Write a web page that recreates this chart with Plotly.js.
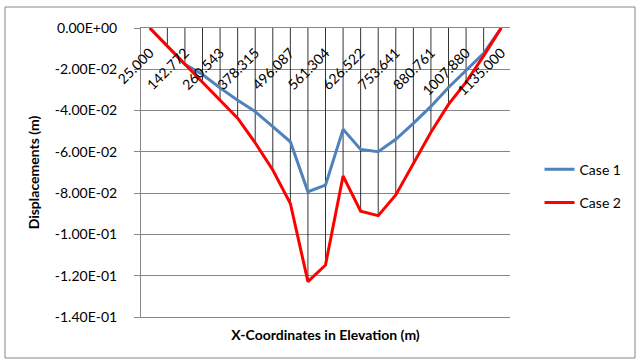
<!DOCTYPE html>
<html>
<head>
<meta charset="utf-8">
<script src="https://cdn.plot.ly/plotly-3.0.1.min.js"></script>
<style>
html,body{margin:0;padding:0;background:#fff;}
#chart{width:640px;height:364px;}
</style>
</head>
<body>
<div id="chart"></div>
<script>
// X-coordinates (categories)
const categories = ['25.000','83.886','142.772','201.657','260.543','319.429','378.315','437.201','496.087','528.696','561.304','593.913','626.522','690.082','753.641','817.201','880.761','944.320','1007.880','1071.440','1135.000'];
// labels shown on the category axis (every other category)
const xTickLabels = ['25.000','142.772','260.543','378.315','496.087','561.304','626.522','753.641','880.761','1007.880','1135.000'];
// Displacements (m)
const case1 = [0, -0.0090, -0.0176, -0.0225, -0.0290, -0.0350, -0.0405, -0.0478, -0.0551, -0.0793, -0.0761, -0.0491, -0.0588, -0.0599, -0.0539, -0.0462, -0.0380, -0.0288, -0.0206, -0.0123, 0];
const case2 = [0, -0.0090, -0.0176, -0.0263, -0.0350, -0.0437, -0.0556, -0.0688, -0.0850, -0.1229, -0.1148, -0.0717, -0.0887, -0.0909, -0.0809, -0.0660, -0.0505, -0.0370, -0.0262, -0.0135, 0];
const seriesNames = ['Case 1', 'Case 2'];
// y tick values
const yTicks = [0, -0.02, -0.04, -0.06, -0.08, -0.10, -0.12, -0.14];

function sci(v){
  const s = v.toExponential(2); // e.g. -2.00e-2
  const m = s.match(/^(-?[\d.]+)e([+-])(\d+)$/);
  const exp = m[3].length < 2 ? '0' + m[3] : m[3];
  return m[1] + 'E' + m[2] + exp;
}
const yTickText = yTicks.map(sci);

// drop lines from the category axis (y = 0) to the lowest series value
const dropX = [], dropY = [];
categories.forEach((c, i) => {
  dropX.push(c, c, null);
  dropY.push(0, Math.min(case1[i], case2[i]), null);
});

const FONT = 'Lato, Carlito, "Liberation Sans", sans-serif';
const xRange = [-0.5, categories.length - 0.5];

const traces = [
  {x: dropX, y: dropY, mode: 'lines', type: 'scatter',
   line: {color: '#000000', width: 0.8}, showlegend: false, hoverinfo: 'skip'},
  {x: categories, y: case1, name: seriesNames[0], mode: 'lines', type: 'scatter',
   line: {color: '#4F81BD', width: 3}, legendgroup: 'a'},
  {x: categories, y: case2, name: seriesNames[1], mode: 'lines', type: 'scatter',
   line: {color: '#FF0000', width: 3}, legendgroup: 'b'},
  // invisible carrier so the label axis knows the categories
  {x: categories, y: case1, xaxis: 'x2', yaxis: 'y', mode: 'lines', type: 'scatter',
   line: {color: 'rgba(0,0,0,0)', width: 0}, showlegend: false, hoverinfo: 'skip'}
];

const layout = {
  width: 640, height: 364,
  margin: {l: 141, r: 130, t: 28, b: 47, pad: 0},
  paper_bgcolor: '#ffffff', plot_bgcolor: '#ffffff',
  font: {family: FONT, size: 14, color: '#000000'},
  showlegend: true,
  legend: {x: 1.08, y: 0.565, xanchor: 'left', yanchor: 'top',
           font: {family: FONT, size: 14, color: '#000000'},
           traceorder: 'grouped', tracegroupgap: 12, bgcolor: 'rgba(0,0,0,0)'},
  xaxis: {type: 'category', categoryorder: 'array', categoryarray: categories,
          range: xRange, domain: [0, 1], anchor: 'y', side: 'bottom',
          showgrid: false, showline: true, mirror: true, linecolor: '#878787', linewidth: 1,
          zeroline: false, showticklabels: false, ticks: '',
          automargin: false,
          title: {text: '<b>X-Coordinates in Elevation (m)</b>', standoff: 13,
                  font: {family: FONT, size: 14, color: '#000000'}}},
  xaxis2: {type: 'category', categoryorder: 'array', categoryarray: categories,
           range: xRange, overlaying: 'x', anchor: 'free', position: 0.955, side: 'bottom',
           domain: [0, 1],
           tickmode: 'array', tickvals: xTickLabels, ticktext: xTickLabels,
           tickangle: -45, ticks: '',
           showgrid: false, showline: false, zeroline: false, automargin: false,
           tickfont: {family: FONT, size: 14, color: '#000000'}},
  yaxis: {range: [-0.14, 0], tickmode: 'array', tickvals: yTicks, ticktext: yTickText,
          showgrid: true, gridcolor: '#878787', gridwidth: 1,
          showline: true, linecolor: '#878787', linewidth: 1,
          ticks: 'outside', ticklen: 6, tickcolor: '#878787',
          ticklabelstandoff: 14, zeroline: false, automargin: false,
          tickfont: {family: FONT, size: 14, color: '#000000'},
          title: {text: '<b>Displacements (m)</b>', standoff: 11,
                  font: {family: FONT, size: 14, color: '#000000'}}},
  shapes: [
    {type: 'rect', xref: 'paper', yref: 'paper',
     x0: (5 - 141) / 369, x1: (635 - 141) / 369,
     y0: (317 - 358) / 289, y1: (317 - 7) / 289,
     line: {color: '#888888', width: 1}, fillcolor: 'rgba(0,0,0,0)', layer: 'below'}
  ]
};

Plotly.newPlot('chart', traces, layout, {displayModeBar: false, staticPlot: true});
</script>
</body>
</html>
